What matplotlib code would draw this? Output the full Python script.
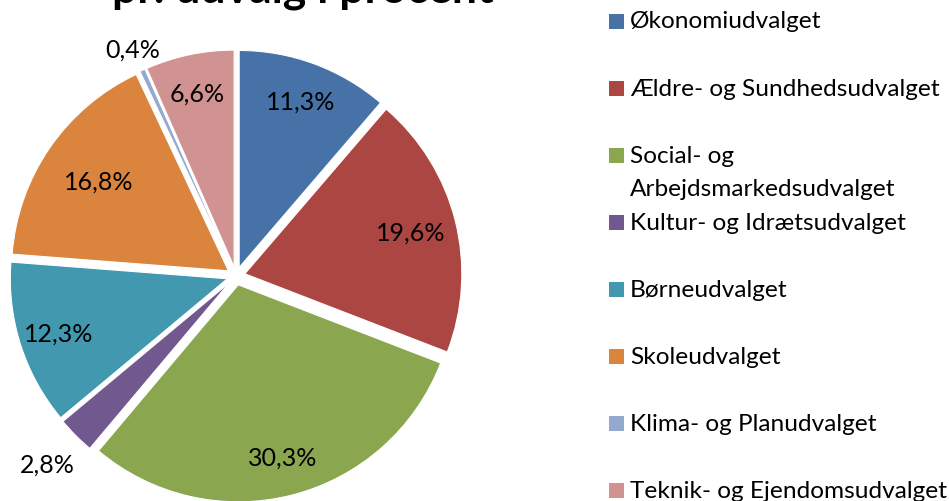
import matplotlib
matplotlib.use("Agg")
import matplotlib.pyplot as plt
from matplotlib.patches import Rectangle
import numpy as np

categories = ["Økonomiudvalget", "Ældre- og Sundhedsudvalget",
              "Social- og\nArbejdsmarkedsudvalget", "Kultur- og Idrætsudvalget",
              "Børneudvalget", "Skoleudvalget", "Klima- og Planudvalget",
              "Teknik- og Ejendomsudvalget"]
values = [11.3, 19.6, 30.3, 2.8, 12.3, 16.8, 0.4, 6.6]
value_labels = ["11,3%", "19,6%", "30,3%", "2,8%", "12,3%", "16,8%", "0,4%", "6,6%"]
title_text = "pr. udvalg i procent"

colors = ["#4672A8", "#AB4642", "#8AA64F", "#71588F", "#4198AF", "#DB843D",
          "#93A9CF", "#D19392"]
label_dist = [0.86, 0.83, 0.86, 1.23, 0.86, 0.77, 1.15, 0.86]

plt.rcParams['font.family'] = ['Lato', 'DejaVu Sans']

W, H = 949, 502
fig = plt.figure(figsize=(W / 100, H / 100), dpi=100)

cx, cy, R = 236, 225, 217
L = 1.25
side = 2 * L * R
ax = fig.add_axes([(cx - side / 2) / W, (cy - side / 2) / H, side / W, side / H])
ax.set_xlim(-L, L)
ax.set_ylim(-L, L)
ax.set_aspect('equal')
ax.axis('off')

wedges, _ = ax.pie(values, colors=colors, startangle=90, counterclock=False,
                   explode=[0.042] * len(values), radius=1.0,
                   wedgeprops=dict(edgecolor='white', linewidth=0.8))

for w, lab, d in zip(wedges, value_labels, label_dist):
    ang = np.deg2rad((w.theta1 + w.theta2) / 2)
    ax.text(d * np.cos(ang), d * np.sin(ang), lab, ha='center', va='center',
            fontsize=18, color='black')

# title (partly cut at top of the image)
fig.text(303 / W, 1 - 3 / H, title_text, ha='center', va='baseline',
         fontsize=32, fontweight='bold', color='black')

# legend
row0, step = 22, 67.1
for i, (c, name) in enumerate(zip(colors, categories)):
    yc = row0 + i * step
    fig.patches.append(Rectangle((609 / W, 1 - (yc + 7.5) / H), 15 / W, 15 / H,
                                 transform=fig.transFigure, facecolor=c,
                                 edgecolor='none'))
    lines = name.split("\n")
    for j, ln in enumerate(lines):
        fig.text(630 / W, 1 - (yc + j * 33) / H, ln, ha='left', va='center',
                 fontsize=17.6, color='black')

fig.savefig("out.png", dpi=100)
